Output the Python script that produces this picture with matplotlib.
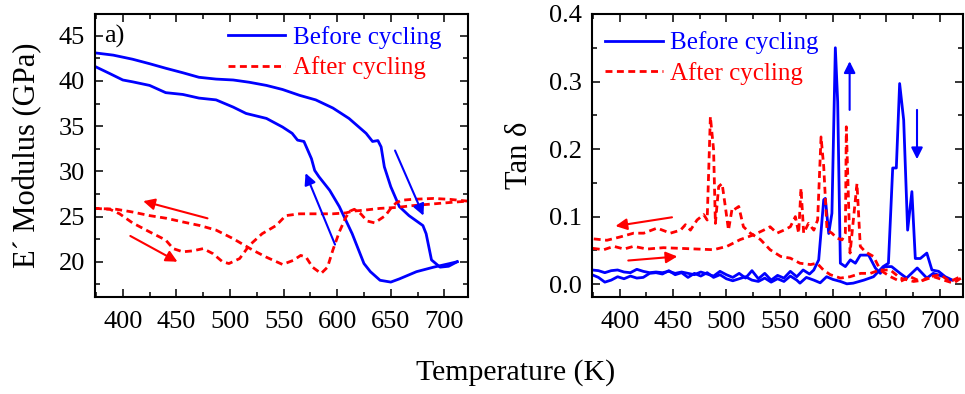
import numpy as np
import matplotlib
matplotlib.use("Agg")
import matplotlib.pyplot as plt
from matplotlib.ticker import MultipleLocator, FormatStrFormatter
from matplotlib.lines import Line2D

plt.rcParams['font.family'] = ['Liberation Serif', 'DejaVu Serif']
plt.rcParams['mathtext.fontset'] = 'stix'

BLUE = "#0000ff"
RED = "#ff0000"
DASH = (0, (2.5, 1.6))

# ── a) storage modulus ───────────────────────────
# before cycling, heating branch
e_heat_T = [374, 391, 409, 425, 440, 456, 471, 487, 503, 518, 534, 549, 565, 580,
            596, 611, 627, 633, 638, 641, 644, 650, 658, 667, 680, 683, 688, 692,
            696, 704, 712]
e_heat = [43.1, 42.85, 42.4, 41.9, 41.4, 40.9, 40.4, 40.2, 40.1, 39.85, 39.5, 39.05,
          38.4, 37.9, 37.0, 35.85, 34.2, 33.3, 33.4, 32.7, 30.5, 28.3, 26.1, 25.1,
          24.0, 23.1, 20.2, 19.8, 19.4, 19.5, 20.0]
# before cycling, cooling branch
e_cool_T = [712, 705, 690, 674, 658, 650, 640, 631, 625, 619, 614, 608, 602, 593,
            583, 579, 576, 569, 563, 558, 549, 534, 515, 503, 487, 471, 456, 440,
            425, 409, 400, 388, 374]
e_cool = [20.0, 19.8, 19.4, 18.9, 18.1, 17.75, 17.95, 18.9, 19.8, 21.6, 23.1, 24.6,
          26.1, 27.9, 29.4, 30.1, 31.4, 33.3, 33.45, 34.2, 34.9, 35.85, 36.4, 37.1,
          37.9, 38.1, 38.5, 38.7, 39.5, 39.9, 40.1, 40.8, 41.6]
# after cycling, heating branch
ea_heat_T = [374, 388, 397, 409, 425, 440, 447, 456, 465, 475, 484, 493, 499, 509,
             518, 530, 543, 552, 565, 580, 596, 608, 615, 625, 640, 655, 670, 690,
             710, 722]
ea_heat = [25.9, 25.8, 25.3, 24.3, 23.3, 22.4, 21.45, 21.1, 21.2, 21.45, 20.9, 20.0,
           19.8, 20.35, 21.8, 23.1, 24.0, 25.1, 25.3, 25.3, 25.3, 25.4, 25.6, 25.7,
           25.9, 26.0, 26.2, 26.4, 26.6, 26.7]
# after cycling, cooling branch
ea_cool_T = [722, 705, 690, 670, 660, 655, 650, 645, 635, 628, 622, 616, 612, 608,
             602, 596, 591, 585, 577, 571, 566, 559, 549, 534, 521, 503, 487, 472,
             456, 441, 425, 409, 394, 374]
ea_cool = [26.7, 26.9, 27.0, 26.9, 26.8, 26.5, 25.9, 25.1, 24.3, 24.5, 25.3, 25.8,
           25.6, 24.9, 23.3, 21.3, 19.4, 18.7, 19.4, 20.5, 20.7, 20.15, 19.7, 20.5,
           21.3, 22.55, 23.5, 24.0, 24.4, 24.8, 25.1, 25.5, 25.8, 25.9]

# ── b) tan delta ─────────────────────────────────
tb1_T = [374, 380, 386, 392, 398, 404, 410, 416, 422, 428, 434, 440, 446, 452, 458,
         464, 470, 476, 482, 488, 494, 500, 506, 512, 518, 524, 530, 536, 542, 548,
         554, 560, 566, 572, 578, 582, 586.6, 591.3, 592.8, 596, 599, 602.2, 604.4,
         606.9, 611.6, 616.3, 621, 625.6, 633.4, 639.7, 644.4, 648, 655, 663, 669,
         679, 688, 694, 704, 710]
tb1 = [0.021, 0.020, 0.017, 0.020, 0.021, 0.018, 0.017, 0.022, 0.019, 0.017, 0.018,
       0.017, 0.019, 0.016, 0.018, 0.016, 0.014, 0.018, 0.015, 0.012, 0.019, 0.014,
       0.010, 0.016, 0.009, 0.020, 0.008, 0.016, 0.006, 0.013, 0.009, 0.019, 0.011,
       0.021, 0.015, 0.021, 0.036, 0.125, 0.127, 0.075, 0.105, 0.350, 0.270, 0.031,
       0.026, 0.036, 0.031, 0.043, 0.043, 0.024, 0.016, 0.026, 0.026, 0.016, 0.009,
       0.024, 0.009, 0.016, 0.011, 0.006]
tb2_T = [374, 380, 386, 392, 398, 404, 410, 416, 422, 428, 434, 440, 446, 452, 458,
         464, 470, 476, 482, 488, 494, 500, 506, 512, 518, 524, 530, 536, 542, 548,
         554, 560, 566, 569, 575, 582, 588, 594, 600, 607, 613, 619, 629, 638, 647,
         652, 656, 659.4, 662.5, 666.3, 670, 674, 677.2, 681.9, 688, 692.8, 699,
         705.3, 712]
tb2 = [0.014, 0.010, 0.003, 0.006, 0.011, 0.008, 0.012, 0.009, 0.010, 0.016, 0.017,
       0.015, 0.020, 0.014, 0.017, 0.010, 0.016, 0.012, 0.017, 0.010, 0.014, 0.008,
       0.005, 0.008, 0.011, 0.006, 0.004, 0.009, 0.003, 0.008, 0.004, 0.012, 0.006,
       0.0015, 0.010, 0.006, 0.002, 0.011, 0.007, 0.004, 0.0005, 0.0015, 0.006,
       0.011, 0.026, 0.031, 0.172, 0.172, 0.297, 0.243, 0.080, 0.137, 0.038, 0.038,
       0.046, 0.021, 0.019, 0.011, 0.006]
ta1_T = [375.6, 388, 400.6, 413, 422.5, 435, 447.5, 457, 461.6, 466.3, 472.5, 478.7,
         482, 485, 488, 489.7, 492.8, 496, 499, 502, 505.4, 507, 511.6, 516, 522.5,
         532, 541, 551, 560, 569, 579, 585, 591, 597.5, 607, 616, 626, 635, 644, 654,
         663, 672.5, 682, 691, 700.6, 710, 719.4]
ta1 = [0.067, 0.065, 0.070, 0.0755, 0.0755, 0.083, 0.0755, 0.080, 0.088, 0.080,
       0.095, 0.103, 0.095, 0.248, 0.199, 0.090, 0.1445, 0.149, 0.115, 0.080, 0.112,
       0.110, 0.115, 0.085, 0.0755, 0.066, 0.051, 0.041, 0.0385, 0.031, 0.029, 0.031,
       0.021, 0.014, 0.009, 0.011, 0.016, 0.016, 0.021, 0.011, 0.004, 0.011, 0.004,
       0.011, 0.014, 0.004, 0.011]
ta2_T = [374.7, 385, 394.4, 404, 413, 425.6, 441, 457, 472.5, 488, 500.6, 513, 525.6,
         535, 541, 547.5, 554, 560, 564.7, 567.8, 570, 572.5, 577, 582, 585.6, 588.8,
         591.3, 594.4, 599, 603.8, 608.5, 611.6, 612.5, 616, 622.5, 625.6, 630.3, 638,
         644.4, 653.8, 663, 675.6, 685, 694.4, 703.8, 713, 722]
ta2 = [0.053, 0.051, 0.056, 0.052, 0.056, 0.052, 0.054, 0.053, 0.052, 0.051, 0.056,
       0.066, 0.073, 0.080, 0.085, 0.0755, 0.080, 0.085, 0.100, 0.0755, 0.142, 0.0755,
       0.090, 0.080, 0.095, 0.218, 0.174, 0.080, 0.0755, 0.068, 0.0656, 0.0755, 0.233,
       0.046, 0.149, 0.056, 0.048, 0.041, 0.021, 0.021, 0.009, 0.004, 0.006, 0.011,
       0.006, 0.0015, 0.011]


def style_axis(ax):
    ax.tick_params(which='both', direction='in', top=True, right=True,
                   labelsize=19, pad=7, width=1.1)
    ax.tick_params(axis='x', which='both', pad=10)
    ax.tick_params(which='major', length=6)
    ax.tick_params(which='minor', length=3.5)
    for s in ax.spines.values():
        s.set_linewidth(1.5)
    ax.xaxis.set_major_locator(MultipleLocator(50))
    ax.xaxis.set_minor_locator(MultipleLocator(25))
    ax.set_xlim(374, 722)


def arrow(ax, start, end, color):
    ax.annotate("", xy=end, xytext=start,
                arrowprops=dict(arrowstyle='-|>', color=color, lw=1.5,
                                mutation_scale=17, shrinkA=0, shrinkB=0))


fig = plt.figure(figsize=(9.65, 3.94), dpi=100)
ax1 = fig.add_axes([0.0984, 0.2462, 0.3865, 0.7183])
ax2 = fig.add_axes([0.6135, 0.2462, 0.3845, 0.7183])

LW = 2.0

# left panel
ax1.plot(e_heat_T, e_heat, color=BLUE, lw=LW)
ax1.plot(e_cool_T, e_cool, color=BLUE, lw=LW)
ax1.plot(ea_heat_T, ea_heat, color=RED, lw=LW, ls=DASH)
ax1.plot(ea_cool_T, ea_cool, color=RED, lw=LW, ls=DASH)
style_axis(ax1)
ax1.set_ylim(16.1, 47.4)
ax1.yaxis.set_major_locator(MultipleLocator(5))
ax1.yaxis.set_minor_locator(MultipleLocator(2.5))
ax1.set_ylabel("E´ Modulus (GPa)", fontsize=22, labelpad=12)
ax1.text(0.025, 0.92, "a)", transform=ax1.transAxes, fontsize=19, va='center')
arrow(ax1, (479, 24.8), (419, 26.7), RED)
arrow(ax1, (407, 22.85), (451, 20.0), RED)
arrow(ax1, (598, 21.9), (570.5, 29.8), BLUE)
arrow(ax1, (654, 32.3), (680.5, 25.1), BLUE)

# right panel
ax2.plot(tb1_T, tb1, color=BLUE, lw=LW)
ax2.plot(tb2_T, tb2, color=BLUE, lw=LW)
ax2.plot(ta1_T, ta1, color=RED, lw=LW, ls=DASH)
ax2.plot(ta2_T, ta2, color=RED, lw=LW, ls=DASH)
style_axis(ax2)
ax2.set_ylim(-0.019, 0.4)
ax2.yaxis.set_major_locator(MultipleLocator(0.1))
ax2.yaxis.set_minor_locator(MultipleLocator(0.05))
ax2.yaxis.set_major_formatter(FormatStrFormatter('%.1f'))
ax2.set_ylabel("Tan δ", fontsize=22, labelpad=11)
arrow(ax2, (449, 0.099), (396, 0.086), RED)
arrow(ax2, (408, 0.035), (454, 0.041), RED)
arrow(ax2, (615.6, 0.258), (615.6, 0.330), BLUE)
arrow(ax2, (678.8, 0.258), (678.8, 0.185), BLUE)

handles = [Line2D([], [], color=BLUE, lw=LW),
           Line2D([], [], color=RED, lw=LW, ls=DASH)]
labels = ["Before cycling", "After cycling"]
for ax, anchor in [(ax1, (0.309, 1.02)), (ax2, (-0.012, 1.0))]:
    leg = ax.legend(handles, labels, loc='upper left', bbox_to_anchor=anchor,
                    frameon=False, fontsize=18, handlelength=2.3,
                    handletextpad=0.3, labelspacing=0.3, borderaxespad=0.3)
    for t, c in zip(leg.get_texts(), [BLUE, RED]):
        t.set_color(c)

fig.text(0.534, 0.055, "Temperature (K)", fontsize=21.5, ha='center', va='center')

fig.savefig("out.png", dpi=100)
